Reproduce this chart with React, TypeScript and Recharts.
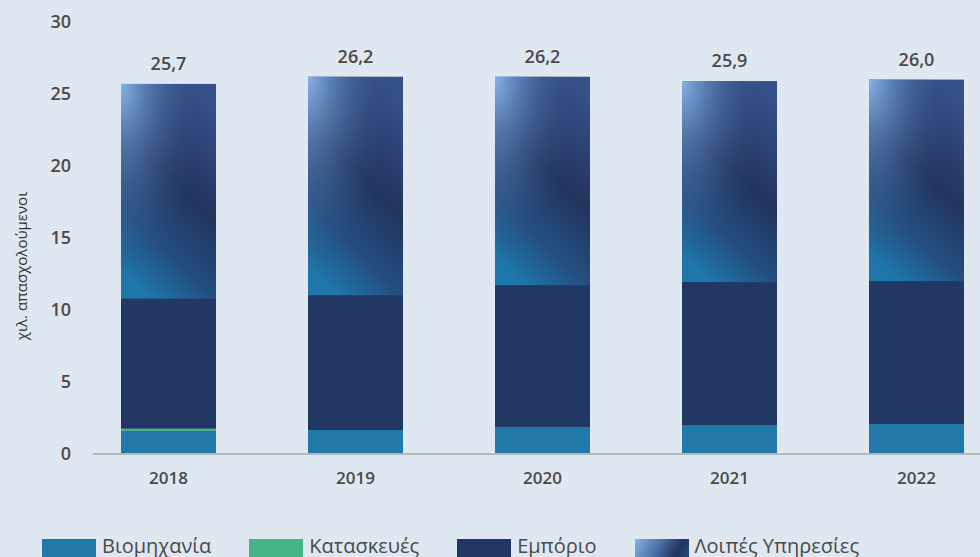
import * as React from "react";
import { Bar, BarChart, LabelList, XAxis, YAxis } from "recharts";

const years = ["2018", "2019", "2020", "2021", "2022"];
const industry = [1.6, 1.67, 1.88, 2.02, 2.09];
const construction = [0.15, 0, 0, 0, 0];
const trade = [9.08, 9.4, 9.89, 9.96, 9.96];
const otherServices = [14.87, 15.13, 14.43, 13.92, 13.95];
const totals = [25.7, 26.2, 26.2, 25.9, 26.0];
const yTicks = [0, 5, 10, 15, 20, 25, 30];
const seriesNames = ["Βιομηχανία", "Κατασκευές", "Εμπόριο", "Λοιπές Υπηρεσίες"];
const yLabel = "χιλ. απασχολούμενοι";

const FONT = "'Open Sans', sans-serif";
const TEXT = "#4a4a4a";
const BG = "#dfe7f0";
const C_INDUSTRY = "#2179aa";
const C_CONSTR = "#45b386";
const C_TRADE = "#213864";

const data = years.map((year, i) => ({
  year,
  industry: industry[i],
  construction: construction[i],
  trade: trade[i],
  services: otherServices[i],
  total: totals[i],
}));

// two layers: dark body fading to blue at the bottom, light glow from the top-left corner
function ServicesShape(props: any): React.JSX.Element {
  const { x, y, width, height } = props;
  return (
    <g>
      <rect x={x} y={y} width={width} height={height + 0.6} fill="url(#svcBase)" />
      <rect x={x} y={y} width={width} height={height + 0.6} fill="url(#svcGlow)" />
    </g>
  );
}

function Swatch({ idx }: { idx: number }): React.JSX.Element {
  const fills = [
    C_INDUSTRY,
    C_CONSTR,
    C_TRADE,
    "linear-gradient(120deg, #86b3e6 0%, #4f73aa 40%, #22345e 75%, #2a4d80 100%)",
  ];
  return <div style={{ width: 54, height: 20, marginTop: 3, background: fills[idx] }} />;
}

export default function App(): React.JSX.Element {
  return (
    <div
      style={{
        position: "absolute",
        left: 0,
        top: 0,
        width: 980,
        height: 557,
        overflow: "hidden",
        background: BG,
        fontFamily: FONT,
      }}
    >
      <svg width={0} height={0} style={{ position: "absolute" }}>
        <defs>
          <linearGradient id="svcBase" x1="0.75" y1="0" x2="0.3" y2="1">
            <stop offset="0%" stopColor="#36508a" />
            <stop offset="45%" stopColor="#22345e" />
            <stop offset="75%" stopColor="#234f80" />
            <stop offset="100%" stopColor="#1f76aa" />
          </linearGradient>
          <radialGradient id="svcGlow" cx="0" cy="0" r="0.9">
            <stop offset="0%" stopColor="#86b3e6" stopOpacity={1} />
            <stop offset="40%" stopColor="#5f86bd" stopOpacity={0.6} />
            <stop offset="100%" stopColor="#2a4574" stopOpacity={0} />
          </radialGradient>
        </defs>
      </svg>
      <BarChart
        width={980}
        height={557}
        data={data}
        margin={{ top: 22, right: 0, bottom: 63, left: 0 }}
        barSize={95}
      >
        <XAxis
          dataKey="year"
          padding={{ left: -18, right: -30 }}
          tickLine={false}
          tickSize={0}
          tickMargin={18}
          axisLine={{ stroke: "#b3b6ba", strokeWidth: 2 }}
          tick={{ fontSize: 17, fill: TEXT, fontWeight: 600, fontFamily: FONT }}
          height={40}
        />
        <YAxis
          width={93}
          domain={[0, 30]}
          ticks={yTicks}
          axisLine={false}
          tickLine={false}
          tickSize={0}
          tickMargin={22}
          tick={{ fontSize: 18, fill: TEXT, fontWeight: 600, fontFamily: FONT }}
          label={{
            content: () => (
              <text
                transform="translate(23,266) rotate(-90)"
                textAnchor="middle"
                dominantBaseline="middle"
                fontSize={15}
                fill="#333"
                fontFamily={FONT}
              >
                {yLabel}
              </text>
            ),
          }}
        />
        <Bar dataKey="industry" name={seriesNames[0]} stackId="a" fill={C_INDUSTRY} isAnimationActive={false} />
        <Bar dataKey="construction" name={seriesNames[1]} stackId="a" fill={C_CONSTR} isAnimationActive={false} />
        <Bar dataKey="trade" name={seriesNames[2]} stackId="a" fill={C_TRADE} isAnimationActive={false} />
        <Bar
          dataKey="services"
          name={seriesNames[3]}
          stackId="a"
          fill="#22345e"
          shape={ServicesShape}
          isAnimationActive={false}
        >
          <LabelList
            dataKey="total"
            position="top"
            offset={14}
            formatter={(v: any) => Number(v).toFixed(1).replace(".", ",")}
            style={{ fontSize: 18, fill: TEXT, fontWeight: 600, fontFamily: FONT }}
          />
        </Bar>
      </BarChart>
      <div
        style={{
          position: "absolute",
          left: 42,
          top: 536,
          display: "flex",
          alignItems: "flex-start",
          whiteSpace: "nowrap",
        }}
      >
        {seriesNames.map((name, i) => (
          <div key={name} style={{ display: "flex", alignItems: "flex-start", marginRight: 38 }}>
            <Swatch idx={i} />
            <span style={{ marginLeft: 6, fontSize: 20, lineHeight: "20px", color: TEXT }}>{name}</span>
          </div>
        ))}
      </div>
    </div>
  );
}
